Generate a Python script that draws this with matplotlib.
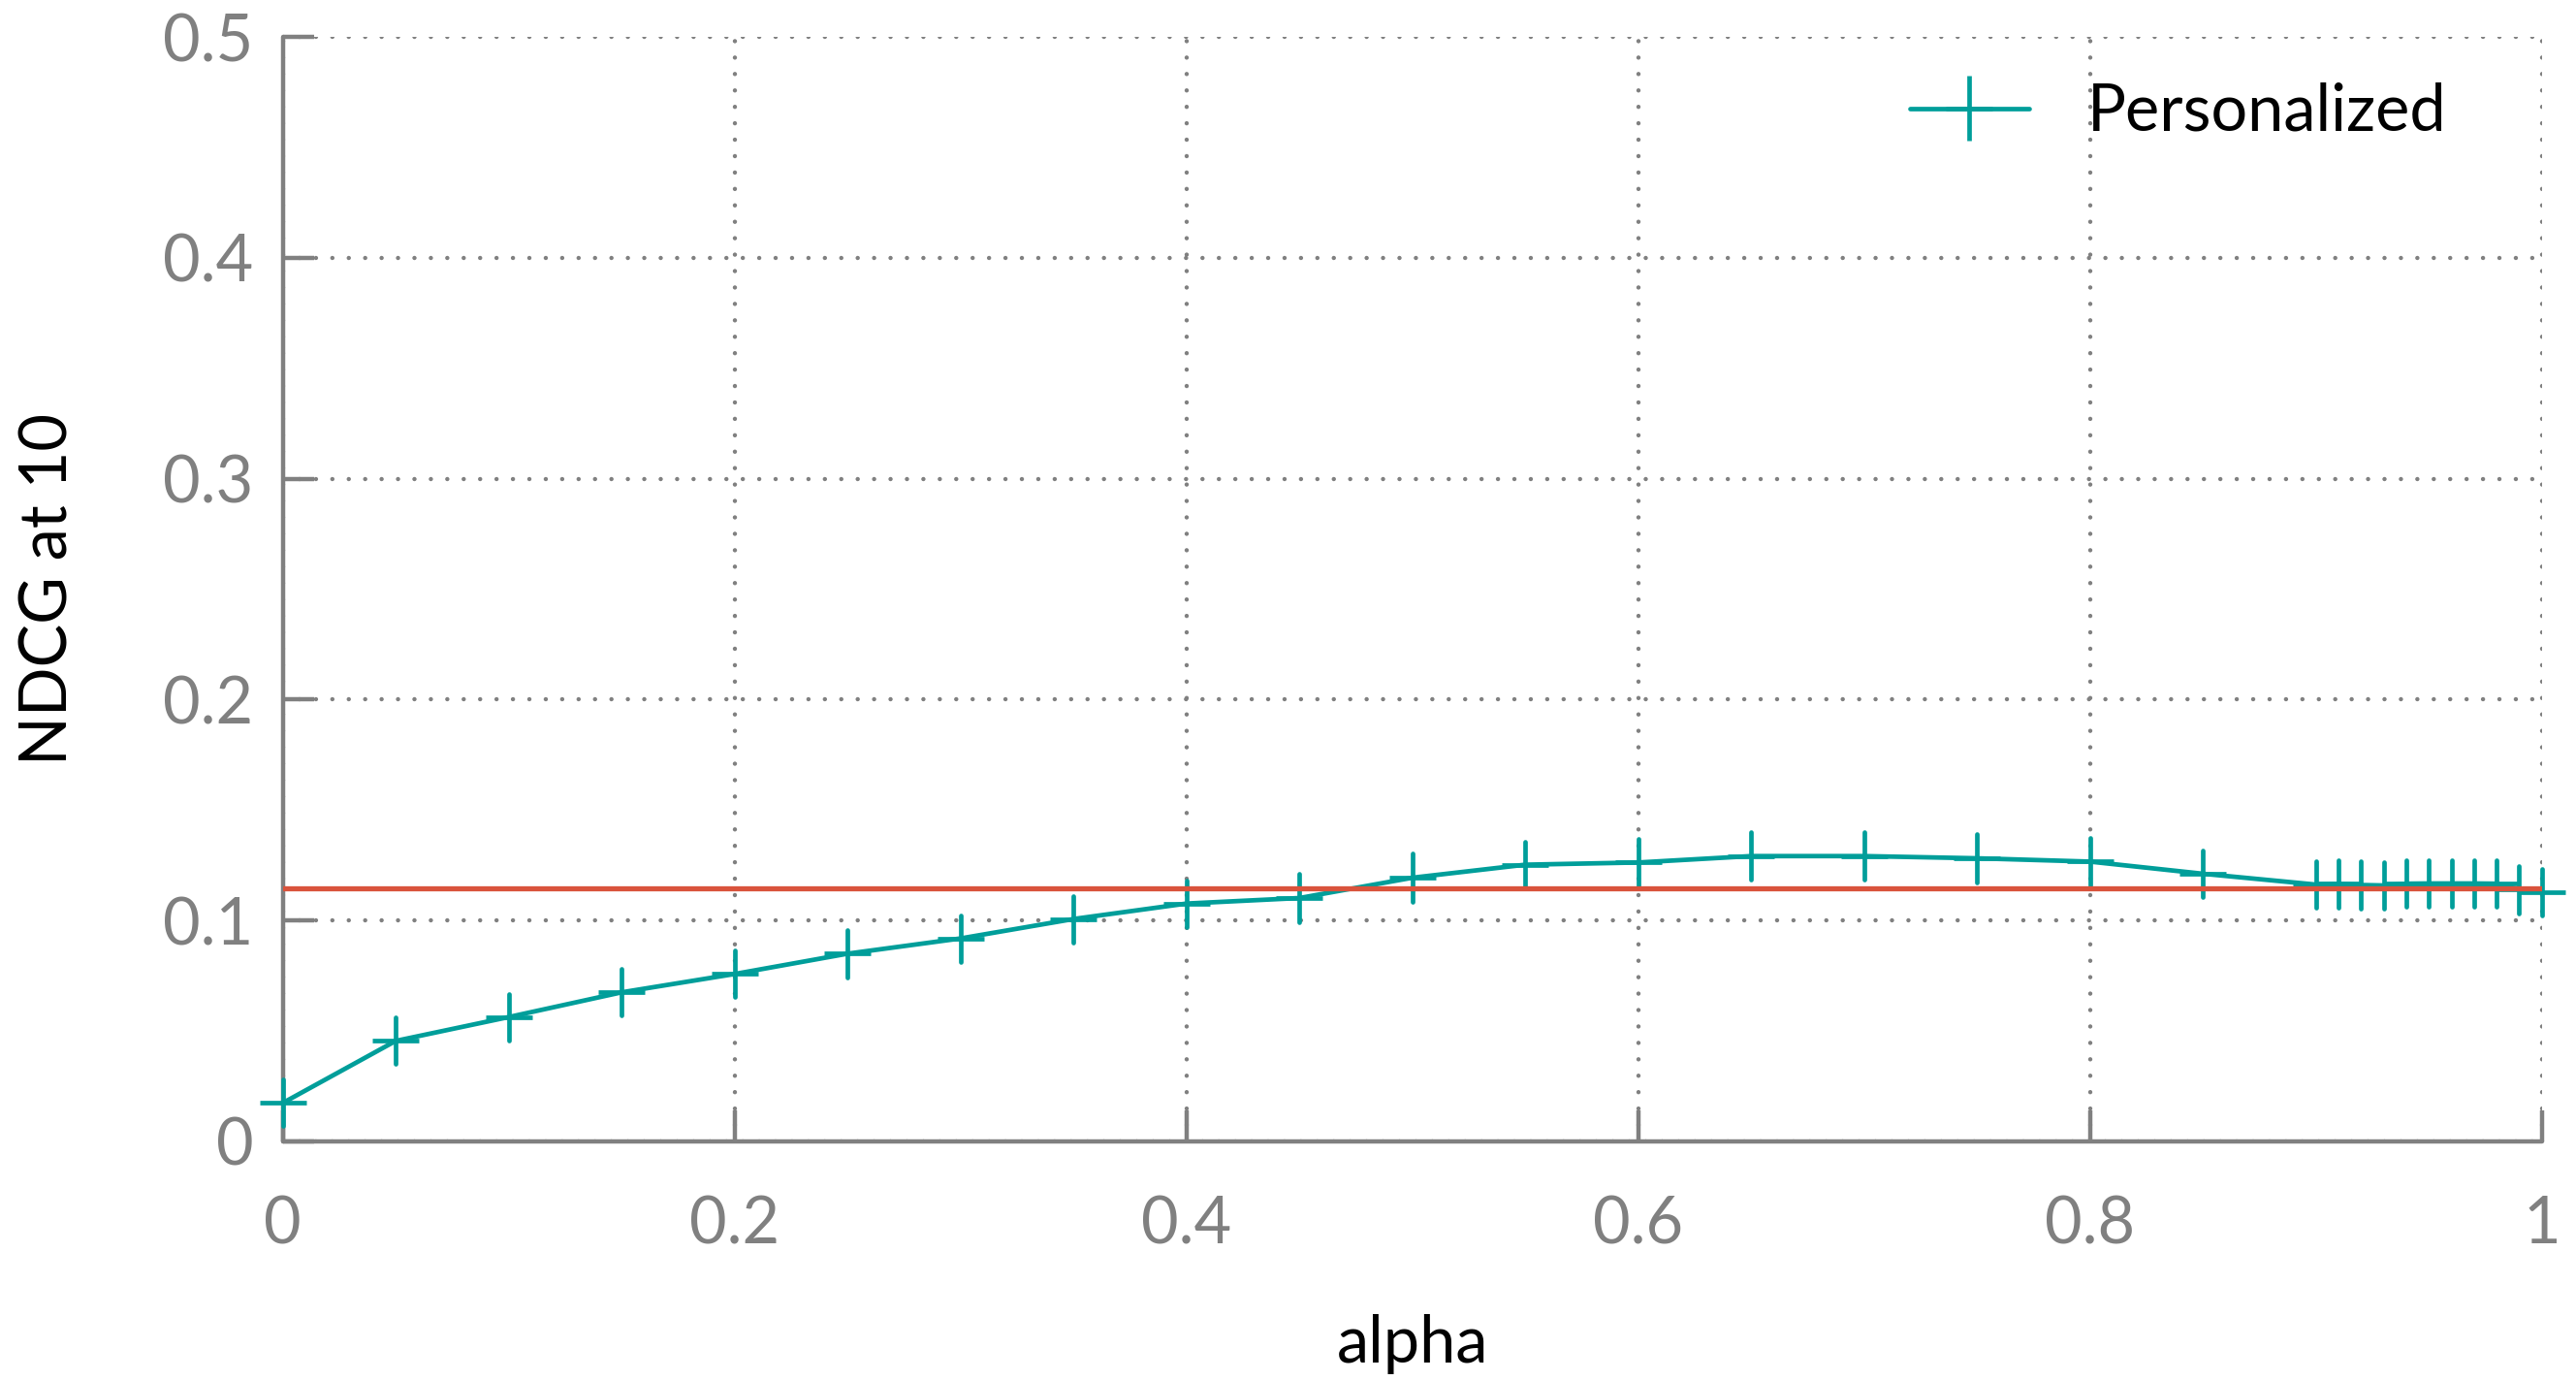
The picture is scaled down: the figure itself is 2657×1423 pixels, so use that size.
import numpy as np
import matplotlib
matplotlib.use("Agg")
import matplotlib.pyplot as plt

# values
alpha = [0.0, 0.05, 0.10, 0.15, 0.20, 0.25, 0.30, 0.35, 0.40, 0.45, 0.50,
         0.55, 0.60, 0.65, 0.70, 0.75, 0.80, 0.85,
         0.90, 0.91, 0.92, 0.93, 0.94, 0.95, 0.96, 0.97, 0.98, 0.99, 1.00]
ndcg = [0.0173, 0.0454, 0.0562, 0.0674, 0.0757, 0.0849, 0.0918, 0.1006, 0.1076, 0.1101, 0.1193,
        0.1252, 0.1262, 0.1291, 0.1291, 0.1281, 0.1266, 0.1211,
        0.1162, 0.1165, 0.1160, 0.1158, 0.1166, 0.1167, 0.1167, 0.1167, 0.1166, 0.1140, 0.1128]
err = [0.0106, 0.0105, 0.0106, 0.0106, 0.0106, 0.0106, 0.0106, 0.0106, 0.0105, 0.0108, 0.0108,
       0.0103, 0.0108, 0.0108, 0.0107, 0.0108, 0.0106, 0.0107,
       0.0104, 0.0106, 0.0106, 0.0106, 0.0106, 0.0106, 0.0106, 0.0106, 0.0106, 0.0107, 0.0107]
baseline = 0.1145

xticks = [0, 0.2, 0.4, 0.6, 0.8, 1]
xticklabels = ["0", "0.2", "0.4", "0.6", "0.8", "1"]
yticks = [0, 0.1, 0.2, 0.3, 0.4, 0.5]
yticklabels = ["0", "0.1", "0.2", "0.3", "0.4", "0.5"]

teal = "#009E9A"
red = "#D9533C"
grey = "#808080"

plt.rcParams['font.family'] = ['Lato', 'DejaVu Sans']

fig = plt.figure(figsize=(2657 / 200, 1423 / 200), dpi=200)
ax = fig.add_axes([291.7 / 2657, 1 - 1176.7 / 1423, (2621.7 - 291.7) / 2657, (1176.7 - 38.3) / 1423])

line = ax.errorbar(alpha, ndcg, yerr=err, color=teal, lw=1.7, elinewidth=1.7, capsize=0,
                   marker="_", markersize=17.5, markeredgewidth=1.7,
                   label="Personalized", clip_on=False, zorder=3)
for art in line.lines[2]:
    art.set_capstyle("round")
line.lines[0].set_solid_capstyle("round")
ax.axhline(baseline, color=red, lw=1.9, zorder=4)

ax.set_xlim(0, 1)
ax.set_ylim(0, 0.5)
ax.set_xticks(xticks)
ax.set_xticklabels(xticklabels)
ax.set_yticks(yticks)
ax.set_yticklabels(yticklabels)

ax.grid(True, color=grey, lw=1.6, linestyle=(0, (0.01, 3.8)), dash_capstyle="round")
ax.set_axisbelow(True)

for s in ["top", "right"]:
    ax.spines[s].set_visible(False)
for s in ["left", "bottom"]:
    ax.spines[s].set_color(grey)
    ax.spines[s].set_linewidth(1.6)
    ax.spines[s].set_capstyle("round")

ax.tick_params(axis="both", direction="in", length=11.5, width=1.6, color=grey,
               labelcolor=grey, labelsize=24)
ax.tick_params(axis="x", pad=20)
ax.tick_params(axis="y", pad=11)

ax.set_xlabel("alpha", fontsize=24, color="black", labelpad=22)
ax.set_ylabel("NDCG at 10", fontsize=24, color="black", labelpad=31)

leg = ax.legend(loc="upper right", bbox_to_anchor=(0.958, 0.959), frameon=False,
                fontsize=24, handlelength=1.85, handletextpad=0.9,
                borderpad=0, borderaxespad=0)

fig.savefig("out.png", dpi=200)
